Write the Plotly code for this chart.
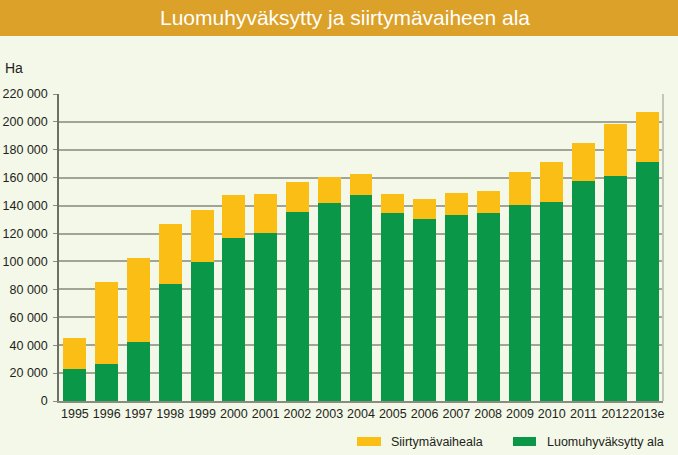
import plotly.graph_objects as go

years = ["1995", "1996", "1997", "1998", "1999", "2000", "2001", "2002", "2003", "2004",
         "2005", "2006", "2007", "2008", "2009", "2010", "2011", "2012", "2013e"]
luomu = [23000, 26500, 42300, 83900, 99600, 116800, 120400, 135500, 141900, 147700,
         134800, 130500, 133300, 134800, 140500, 142700, 157700, 161300, 171300]
total = [45200, 85300, 102500, 126900, 136900, 147700, 148400, 157000, 160600, 162700,
         148400, 144800, 149100, 150500, 164200, 171300, 184900, 198600, 207200]
siirtyma = [t - l for t, l in zip(total, luomu)]
ytick_vals = list(range(0, 220001, 20000))
ytick_text = ["0" if v == 0 else f"{v // 1000} 000" for v in ytick_vals]

GREEN = "#0A9748"
YELLOW = "#FBBE15"
BG = "#F4F8E8"
BAR = "#DBA128"
FONT = "Liberation Sans, Arial, sans-serif"

W, H = 678, 455
ML, MR, MT, MB = 59, 15, 94, 54
PW, PH = W - ML - MR, H - MT - MB

def px(x):
    return (x - ML) / PW

def py(y):
    return (H - MB - y) / PH

fig = go.Figure()
fig.add_trace(go.Bar(x=years, y=luomu, name="Luomuhyväksytty ala",
                     marker=dict(color=GREEN, line=dict(width=0))))
fig.add_trace(go.Bar(x=years, y=siirtyma, name="Siirtymävaiheala",
                     marker=dict(color=YELLOW, line=dict(width=0))))

shapes = [
    # title bar
    dict(type="rect", xref="paper", yref="paper", x0=px(-2), x1=px(W + 2), y0=py(36), y1=py(-2),
         fillcolor=BAR, line=dict(width=0), layer="below"),
    # right border
    dict(type="line", xref="paper", yref="paper", x0=1, x1=1, y0=0, y1=1,
         line=dict(color="#C4C6B6", width=2)),
    # legend swatches
    dict(type="rect", xref="paper", yref="paper", x0=px(357), x1=px(381), y0=py(446), y1=py(437),
         fillcolor=YELLOW, line=dict(width=0)),
    dict(type="rect", xref="paper", yref="paper", x0=px(513), x1=px(536), y0=py(446), y1=py(437),
         fillcolor=GREEN, line=dict(width=0)),
]
annotations = [
    dict(text="Luomuhyväksytty ja siirtymävaiheen ala", xref="paper", yref="paper",
         x=px(345), y=py(17), xanchor="center", yanchor="middle", showarrow=False,
         font=dict(family="Liberation Sans Narrow, Arial Narrow, " + FONT, size=21, color="white")),
    dict(text="Ha", xref="paper", yref="paper", x=px(3), y=py(68), xanchor="left",
         yanchor="middle", showarrow=False, font=dict(family=FONT, size=14, color="#231F20")),
    dict(text="Siirtymävaiheala", xref="paper", yref="paper", x=px(389), y=py(442),
         xanchor="left", yanchor="middle", showarrow=False,
         font=dict(family=FONT, size=12.5, color="#231F20")),
    dict(text="Luomuhyväksytty ala", xref="paper", yref="paper", x=px(545), y=py(442),
         xanchor="left", yanchor="middle", showarrow=False,
         font=dict(family=FONT, size=12.5, color="#231F20")),
]

fig.update_layout(
    width=W, height=H,
    margin=dict(l=ML, r=MR, t=MT, b=MB, pad=0),
    barmode="stack", bargap=0.28,
    paper_bgcolor=BG, plot_bgcolor=BG,
    showlegend=False,
    shapes=shapes, annotations=annotations,
    font=dict(family=FONT, size=12, color="#231F20"),
    xaxis=dict(showgrid=False, showline=True, linecolor="#8A8C80", linewidth=1.5,
               ticks="", tickfont=dict(size=12.5), tickangle=0, automargin=False),
    yaxis=dict(range=[0, 220000], tickvals=ytick_vals, ticktext=ytick_text,
               showgrid=True, gridcolor="#A2A496", gridwidth=1.5,
               showline=True, linecolor="#6E7066", linewidth=1.5,
               ticks="outside", ticklen=4, tickcolor="#8A8C80", ticklabelstandoff=3,
               zeroline=False, tickfont=dict(size=12.5), automargin=False),
)

fig.write_html("out.html", config={"displayModeBar": False},
               post_script="document.body.style.margin='0';document.body.style.background='" + BG + "';")
